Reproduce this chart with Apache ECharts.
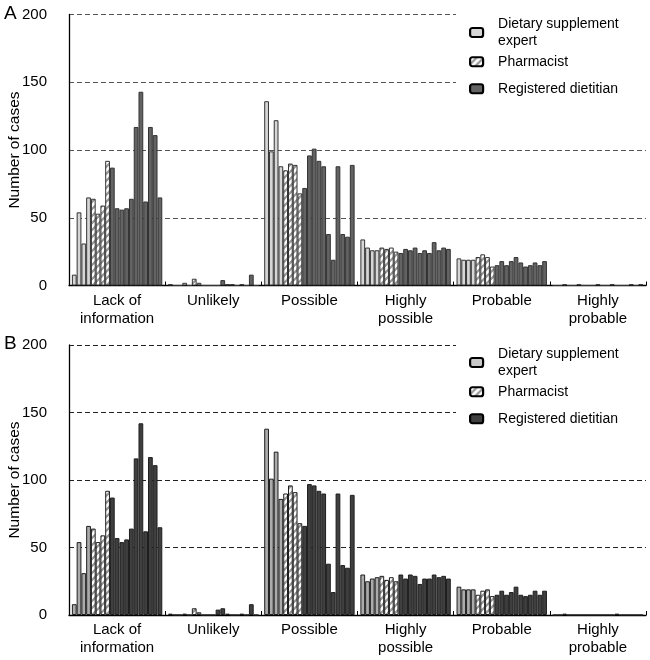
<!DOCTYPE html>
<html>
<head>
<meta charset="utf-8">
<script src="https://cdn.jsdelivr.net/npm/echarts@6/dist/echarts.min.js"></script>
<style>html,body{margin:0;padding:0;background:#fff}#c{width:650px;height:660px}</style>
</head>
<body>
<div id="c"></div>
<script>
// ---- data ----
const categories = ['Lack of\ninformation', 'Unlikely', 'Possible', 'Highly\npossible', 'Probable', 'Highly\nprobable'];
const groupNames = ['Dietary supplement expert', 'Pharmacist', 'Registered dietitian'];
const groupSizes = [4, 4, 11];

// Panel A: 19 evaluators per category
const A_lack            = [8, 54, 31, 65, 64, 53, 59, 92, 87, 57, 56, 57, 64, 117, 143, 62, 117, 111, 65];
const A_unlikely        = [1, 0, 0, 2, 0, 5, 2, 0, 0, 0, 0, 4, 1, 1, 0, 1, 0, 8, 0];
const A_possible        = [136, 99, 122, 88, 85, 90, 89, 68, 72, 96, 101, 92, 88, 38, 19, 88, 38, 36, 89];
const A_highlyPossible  = [34, 28, 26, 26, 28, 27, 28, 25, 24, 27, 26, 28, 24, 26, 24, 32, 26, 28, 27];
const A_probable        = [20, 19, 19, 19, 21, 23, 21, 14, 15, 18, 15, 18, 21, 17, 14, 15, 17, 15, 18];
const A_highlyProbable  = [0, 0, 1, 0, 0, 1, 0, 0, 0, 1, 0, 0, 1, 0, 0, 0, 1, 0, 1];

// Panel B
const B_lack            = [8, 54, 31, 66, 64, 54, 59, 92, 87, 57, 54, 56, 64, 116, 142, 62, 117, 111, 65];
const B_unlikely        = [1, 0, 0, 1, 0, 5, 2, 0, 0, 0, 4, 5, 1, 0, 0, 1, 0, 8, 0];
const B_possible        = [138, 101, 121, 86, 90, 96, 91, 68, 66, 97, 96, 92, 90, 38, 17, 90, 37, 35, 89];
const B_highlyPossible  = [30, 25, 27, 28, 29, 26, 28, 25, 30, 27, 30, 29, 23, 27, 27, 30, 28, 29, 27];
const B_probable        = [21, 19, 19, 19, 15, 18, 19, 14, 15, 18, 15, 17, 21, 15, 14, 15, 18, 15, 18];
const B_highlyProbable  = [0, 0, 1, 0, 0, 0, 0, 0, 0, 0, 0, 0, 0, 1, 0, 0, 0, 0, 0];

const yTickValues = [0, 50, 100, 150, 200];

const panelA = [A_lack, A_unlikely, A_possible, A_highlyPossible, A_probable, A_highlyProbable];
const panelB = [B_lack, B_unlikely, B_possible, B_highlyPossible, B_probable, B_highlyProbable];

// ---- styles ----
function makeHatch() {
  const c = document.createElement('canvas');
  c.width = 7; c.height = 7;
  const g = c.getContext('2d');
  g.fillStyle = '#ffffff'; g.fillRect(0, 0, 7, 7);
  g.strokeStyle = '#959595'; g.lineWidth = 2.2;
  g.beginPath();
  g.moveTo(-2, 9); g.lineTo(9, -2);
  g.moveTo(-2, 2); g.lineTo(2, -2);
  g.moveTo(5, 9); g.lineTo(9, 5);
  g.stroke();
  return c;
}
const hatch = { image: makeHatch(), repeat: 'repeat' };
const panelColors = [
  { fills: ['#d6d6d6', hatch, '#636363'], border: '#333333' },
  { fills: ['#ababab', hatch, '#3f3f3f'], border: '#1e1e1e' }
];
const FONT = 'Liberation Sans, Arial, sans-serif';

const grids = [
  { left: 69, right: 4, top: 14.5, height: 271, containLabel: false, outerBoundsMode: 'none' },
  { left: 69, right: 4, top: 345, height: 270, containLabel: false, outerBoundsMode: 'none' }
];

const xAxes = [0, 1].map(p => ({
  type: 'category', gridIndex: p, data: categories,
  axisLine: { show: true, lineStyle: { color: '#000', width: 1.3 } },
  axisTick: { show: true, inside: true, length: 4, lineStyle: { color: '#000' } },
  axisLabel: { color: '#000', fontSize: 15, fontFamily: FONT, lineHeight: 18, margin: 6, interval: 0 }
}));
const yAxes = [0, 1].map(p => ({
  type: 'value', gridIndex: p, min: yTickValues[0], max: yTickValues[yTickValues.length - 1], interval: 50,
  name: 'Number of cases', nameLocation: 'middle', nameGap: 46, nameRotate: 90, nameMoveOverlap: false,
  nameTextStyle: { color: '#000', fontSize: 15.5, fontFamily: FONT },
  axisLine: { show: true, lineStyle: { color: '#000', width: 1.3 } },
  axisTick: { show: false },
  axisLabel: { color: '#000', fontSize: 15, fontFamily: FONT, margin: 22 },
  splitLine: { show: true, lineStyle: { color: p === 0 ? '#555' : '#222', type: [5, 3], width: 1 } }
}));

const series = [];
[panelA, panelB].forEach((panel, p) => {
  for (let i = 0; i < 19; i++) {
    const g = i < groupSizes[0] ? 0 : (i < groupSizes[0] + groupSizes[1] ? 1 : 2);
    series.push({
      type: 'bar', name: groupNames[g], xAxisIndex: p, yAxisIndex: p,
      data: panel.map(cat => cat[i]),
      barGap: '0%', barCategoryGap: '6%',
      itemStyle: { color: panelColors[p].fills[g], borderColor: panelColors[p].border, borderWidth: 1 },
      emphasis: { disabled: true },
      animation: false
    });
  }
});

function legendFor(p, idx, top) {
  return {
    left: 469, top: top, padding: 0, selectedMode: false,
    orient: 'vertical', icon: 'roundRect', itemWidth: 13, itemHeight: 9,
    data: [{ name: groupNames[idx], itemStyle: { color: p === 1 && idx === 0 ? '#c8c8c8' : panelColors[p].fills[idx] } }],
    itemStyle: { borderColor: '#000', borderWidth: 2.2 },
    formatter: n => n === 'Dietary supplement expert' ? 'Dietary supplement\nexpert' : n,
    textStyle: { color: '#000', fontSize: 14, fontFamily: FONT, lineHeight: 17.5, padding: [0, 0, 0, 10] }
  };
}
const legends = [
  legendFor(0, 0, 15), legendFor(0, 1, 53), legendFor(0, 2, 80),
  legendFor(1, 0, 345), legendFor(1, 1, 383), legendFor(1, 2, 410)
];

const chart = echarts.init(document.getElementById('c'), null, { renderer: 'canvas' });
chart.setOption({
  animation: false,
  backgroundColor: '#fff',
  grid: grids,
  xAxis: xAxes,
  yAxis: yAxes,
  legend: legends,
  series: series,
  graphic: [
    { type: 'rect', shape: { x: 456, y: 6, width: 194, height: 100 }, style: { fill: '#fff' }, z: 3, silent: true },
    { type: 'rect', shape: { x: 456, y: 336, width: 194, height: 100 }, style: { fill: '#fff' }, z: 3, silent: true },
    { type: 'text', left: 4, top: 4, style: { text: 'A', fontSize: 19, fontFamily: FONT, fill: '#000' }, z: 10 },
    { type: 'text', left: 4, top: 334, style: { text: 'B', fontSize: 19, fontFamily: FONT, fill: '#000' }, z: 10 }
  ]
});
</script>
</body>
</html>
